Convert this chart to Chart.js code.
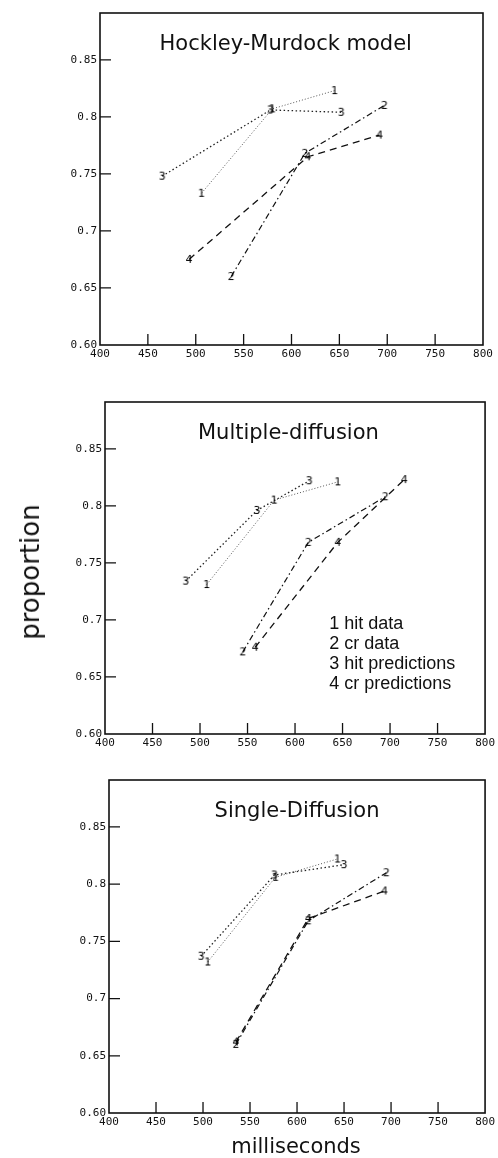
<!DOCTYPE html>
<html>
<head>
<meta charset="utf-8">
<script src="https://cdn.jsdelivr.net/npm/chart.js@4.4.1/dist/chart.umd.min.js"></script>
<style>
  body { margin: 0; background: #fff; width: 498px; height: 1158px; position: relative; overflow: hidden; }
  .panel { position: absolute; left: 0; width: 498px; }
  #ylab { position: absolute; left: 30px; top: 572px; transform: translate(-50%, -50%) rotate(-90deg);
          font: 26px "DejaVu Sans"; white-space: nowrap; color: #111; }
  #xlab { position: absolute; left: 296px; top: 1146px; transform: translate(-50%, -50%);
          font: 21px "DejaVu Sans"; white-space: nowrap; color: #111; }
</style>
</head>
<body>
<div class="panel" style="top:0;height:370px"><canvas id="c1"></canvas></div>
<div class="panel" style="top:389px;height:370px"><canvas id="c2"></canvas></div>
<div class="panel" style="top:767px;height:371px"><canvas id="c3"></canvas></div>
<div id="ylab">proportion</div>
<div id="xlab">milliseconds</div>
<script>
// axes
const xTicks = [400, 450, 500, 550, 600, 650, 700, 750, 800];
const yTicks = [0.6, 0.65, 0.7, 0.75, 0.8, 0.85];
const yTickLabels = ['0.60', '0.65', '0.7', '0.75', '0.8', '0.85'];
const legendLines = ['1 hit data', '2 cr data', '3 hit predictions', '4 cr predictions'];
const titles = ['Hockley-Murdock model', 'Multiple-diffusion', 'Single-Diffusion'];

// Hockley-Murdock model
const hmHitData  = [{x: 506, y: 0.733}, {x: 580, y: 0.807}, {x: 645, y: 0.823}];
const hmCrData   = [{x: 537, y: 0.660}, {x: 614, y: 0.768}, {x: 697, y: 0.810}];
const hmHitPred  = [{x: 465, y: 0.748}, {x: 578, y: 0.806}, {x: 652, y: 0.804}];
const hmCrPred   = [{x: 493, y: 0.675}, {x: 617, y: 0.765}, {x: 692, y: 0.784}];

// Multiple-diffusion
const mdHitData  = [{x: 507, y: 0.731}, {x: 578, y: 0.805}, {x: 645, y: 0.821}];
const mdCrData   = [{x: 545, y: 0.672}, {x: 614, y: 0.768}, {x: 695, y: 0.808}];
const mdHitPred  = [{x: 485, y: 0.734}, {x: 560, y: 0.796}, {x: 615, y: 0.822}];
const mdCrPred   = [{x: 558, y: 0.676}, {x: 645, y: 0.768}, {x: 715, y: 0.823}];

// Single-Diffusion
const sdHitData  = [{x: 505, y: 0.732}, {x: 577, y: 0.806}, {x: 643, y: 0.822}];
const sdCrData   = [{x: 535, y: 0.660}, {x: 612, y: 0.768}, {x: 695, y: 0.810}];
const sdHitPred  = [{x: 498, y: 0.737}, {x: 576, y: 0.808}, {x: 650, y: 0.817}];
const sdCrPred   = [{x: 535, y: 0.662}, {x: 612, y: 0.770}, {x: 693, y: 0.794}];

// little digit markers, like the hand-lettered curve numbers
function digitMarker(d) {
    const c = document.createElement('canvas');
    c.width = 10; c.height = 13;
    const g = c.getContext('2d');
    g.fillStyle = '#000';
    g.font = '11px "DejaVu Sans"';
    g.textAlign = 'center';
    g.textBaseline = 'middle';
    g.fillText(d, 5, 7);
    return c;
}
const marks = ['1', '2', '3', '4'].map(digitMarker);

const lineStyles = [
    { borderColor: '#555', borderWidth: 1,   borderDash: [1, 2] },        // 1 hit data
    { borderColor: '#111', borderWidth: 1.2, borderDash: [6, 3, 1.5, 3] }, // 2 cr data
    { borderColor: '#222', borderWidth: 1.3, borderDash: [1.5, 2.5] },    // 3 hit predictions
    { borderColor: '#111', borderWidth: 1.3, borderDash: [7, 5] }         // 4 cr predictions
];

// frame, inward ticks, title and legend drawn on the chart
const framePlugin = {
    id: 'frame',
    afterDraw(chart, args, opts) {
        const { ctx, chartArea: a, scales: { x, y } } = chart;
        ctx.save();
        ctx.strokeStyle = '#111';
        ctx.lineWidth = 1.6;
        ctx.setLineDash([]);
        ctx.strokeRect(a.left, a.top, a.right - a.left, a.bottom - a.top);
        ctx.lineWidth = 1.3;
        ctx.beginPath();
        yTicks.slice(1).forEach(v => {
            const py = y.getPixelForValue(v);
            ctx.moveTo(a.left, py); ctx.lineTo(a.left + 11, py);
        });
        xTicks.slice(1, -1).forEach(v => {
            const px = x.getPixelForValue(v);
            ctx.moveTo(px, a.bottom); ctx.lineTo(px, a.bottom - 11);
        });
        ctx.stroke();
        ctx.fillStyle = '#111';
        ctx.font = '21px "DejaVu Sans"';
        ctx.textAlign = 'center';
        ctx.textBaseline = 'middle';
        ctx.fillText(opts.title, x.getPixelForValue(opts.titleX), y.getPixelForValue(0.863));
        if (opts.legend) {
            ctx.font = '18px "Liberation Sans"';
            ctx.textAlign = 'left';
            legendLines.forEach((t, i) => {
                ctx.fillText(t, x.getPixelForValue(636), y.getPixelForValue(0.696 - i * 0.0175));
            });
        }
        ctx.restore();
    }
};

function makePanel(id, series, title, titleX, leftW, padRight, legend) {
    new Chart(document.getElementById(id), {
        type: 'scatter',
        data: {
            datasets: series.map((pts, i) => ({
                label: legendLines[i],
                data: pts,
                showLine: true,
                fill: false,
                pointStyle: marks[i],
                ...lineStyles[i]
            }))
        },
        options: {
            responsive: true,
            maintainAspectRatio: false,
            animation: false,
            layout: { padding: { top: 13, right: padRight, bottom: 0, left: 0 } },
            plugins: {
                legend: { display: false },
                tooltip: { enabled: false },
                frame: { title: title, titleX: titleX, legend: legend }
            },
            scales: {
                x: {
                    type: 'linear', min: 400, max: 800,
                    grid: { display: false, drawTicks: false },
                    border: { display: false },
                    afterBuildTicks: s => { s.ticks = xTicks.map(v => ({ value: v })); },
                    afterFit: s => { s.height = 25; },
                    ticks: {
                        padding: 3, maxRotation: 0, autoSkip: false,
                        color: '#111', font: { family: 'DejaVu Sans Mono', size: 11 },
                        callback: v => String(v)
                    }
                },
                y: {
                    type: 'linear', min: 0.6, max: 0.891,
                    grid: { display: false, drawTicks: false },
                    border: { display: false },
                    afterBuildTicks: s => { s.ticks = yTicks.map(v => ({ value: v })); },
                    afterFit: s => { s.width = leftW; },
                    ticks: {
                        padding: 3, autoSkip: false,
                        color: '#111', font: { family: 'DejaVu Sans Mono', size: 11 },
                        callback: (v, i) => yTickLabels[i]
                    }
                }
            }
        },
        plugins: [framePlugin]
    });
}

makePanel('c1', [hmHitData, hmCrData, hmHitPred, hmCrPred], titles[0], 594, 100, 15, false);
makePanel('c2', [mdHitData, mdCrData, mdHitPred, mdCrPred], titles[1], 593, 105, 11, true);
makePanel('c3', [sdHitData, sdCrData, sdHitPred, sdCrPred], titles[2], 600, 109, 6, false);
</script>
</body>
</html>
